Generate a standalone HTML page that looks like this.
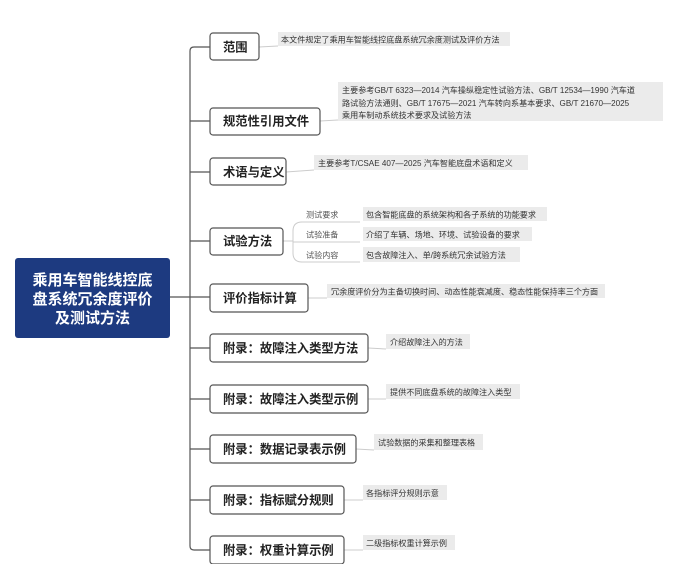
<!DOCTYPE html>
<html><head><meta charset="utf-8"><style>
body{margin:0;background:#fff;width:679px;height:564px;overflow:hidden}
svg text{font-family:"Liberation Sans","Noto Sans CJK SC",sans-serif}
.b{font-size:12.3px;font-weight:bold;fill:#222}
.c{font-size:8.1px;fill:#333}
.s{font-size:8.1px;fill:#555}
</style></head><body>
<svg width="679" height="564" viewBox="0 0 679 564" xmlns="http://www.w3.org/2000/svg">
<g stroke="#555" stroke-width="1.2" fill="none">
<path d="M210 47 H194 Q190 47 190 51 V546 Q190 550 194 550 H210"/>
<path d="M170 297 H210"/>
<path d="M190 121 H210 M190 172 H210 M190 241 H210 M190 348 H210 M190 399 H210 M190 449 H210 M190 500 H210"/>
</g>
<g stroke="#ccc" stroke-width="1" fill="none">
<path d="M259 47 L278 46"/>
<path d="M320 121 L338 120"/>
<path d="M286 172 L314 170"/>
<path d="M308 298 L327 298"/>
<path d="M368 348 L386 349"/>
<path d="M368 399 L386 399"/>
<path d="M356 449 L374 450"/>
<path d="M344 500 L363 500"/>
<path d="M344 550 L363 550"/>
<path d="M283 241 H293"/>
<path d="M302 222 H360 M293 242 H360 M302 262 H360 M302 222 Q293 222 293 231 V253 Q293 262 302 262"/>
</g>
<rect x="15" y="258" width="155" height="80" rx="3" fill="#1d3a80"/>
<g fill="#fff" font-size="15" font-weight="bold" text-anchor="middle">
<text x="92.5" y="285">乘用车智能线控底</text>
<text x="92.5" y="304">盘系统冗余度评价</text>
<text x="92.5" y="323">及测试方法</text>
</g>
<g fill="#fff" stroke="#555" stroke-width="1.2">
<rect x="210" y="33" width="49" height="27" rx="3"/>
<rect x="210" y="108" width="110" height="27" rx="3"/>
<rect x="210" y="158" width="76" height="27" rx="3"/>
<rect x="210" y="228" width="73" height="27" rx="3"/>
<rect x="210" y="284" width="98" height="28" rx="3"/>
<rect x="210" y="334" width="158" height="28" rx="3"/>
<rect x="210" y="385" width="158" height="28" rx="3"/>
<rect x="210" y="435" width="146" height="28" rx="3"/>
<rect x="210" y="486" width="134" height="28" rx="3"/>
<rect x="210" y="536" width="134" height="28" rx="3"/>
</g>
<g>
<text x="223" y="51.5" class="b">范围</text>
<text x="223" y="125.5" class="b">规范性引用文件</text>
<text x="223" y="176.5" class="b">术语与定义</text>
<text x="223" y="245.5" class="b">试验方法</text>
<text x="223" y="302.5" class="b">评价指标计算</text>
<text x="223" y="352.5" class="b">附录：故障注入类型方法</text>
<text x="223" y="403.5" class="b">附录：故障注入类型示例</text>
<text x="223" y="453.5" class="b">附录：数据记录表示例</text>
<text x="223" y="504.5" class="b">附录：指标赋分规则</text>
<text x="223" y="554.5" class="b">附录：权重计算示例</text>
</g>
<g fill="#ebebeb">
<rect x="278" y="32" width="232" height="14"/>
<rect x="338" y="82" width="325" height="39"/>
<rect x="314" y="155" width="214" height="15"/>
<rect x="363" y="207" width="184" height="14"/>
<rect x="363" y="227" width="169" height="14"/>
<rect x="363" y="247" width="157" height="15"/>
<rect x="327" y="284" width="278" height="14"/>
<rect x="386" y="334" width="84" height="15"/>
<rect x="386" y="384" width="134" height="15"/>
<rect x="374" y="434" width="109" height="16"/>
<rect x="363" y="485" width="84" height="15"/>
<rect x="363" y="535" width="92" height="15"/>
</g>
<g>
<text x="281" y="42.5" class="c">本文件规定了乘用车智能线控底盘系统冗余度测试及评价方法</text>
<text x="342" y="93" class="c">主要参考GB/T 6323—2014 汽车操纵稳定性试验方法、GB/T 12534—1990 汽车道</text>
<text x="342" y="106" class="c">路试验方法通则、GB/T 17675—2021 汽车转向系基本要求、GB/T 21670—2025</text>
<text x="342" y="118" class="c">乘用车制动系统技术要求及试验方法</text>
<text x="318" y="166" class="c">主要参考T/CSAE 407—2025 汽车智能底盘术语和定义</text>
<text x="366" y="217.5" class="c">包含智能底盘的系统架构和各子系统的功能要求</text>
<text x="366" y="237.5" class="c">介绍了车辆、场地、环境、试验设备的要求</text>
<text x="366" y="258" class="c">包含故障注入、单/跨系统冗余试验方法</text>
<text x="331" y="294.5" class="c">冗余度评价分为主备切换时间、动态性能衰减度、稳态性能保持率三个方面</text>
<text x="390" y="345" class="c">介绍故障注入的方法</text>
<text x="390" y="395" class="c">提供不同底盘系统的故障注入类型</text>
<text x="378" y="445.5" class="c">试验数据的采集和整理表格</text>
<text x="366" y="496" class="c">各指标评分规则示意</text>
<text x="366" y="546" class="c">二级指标权重计算示例</text>
</g>
<g>
<text x="306" y="217.5" class="s">测试要求</text>
<text x="306" y="237.5" class="s">试验准备</text>
<text x="306" y="258" class="s">试验内容</text>
</g>
</svg>
</body></html>
